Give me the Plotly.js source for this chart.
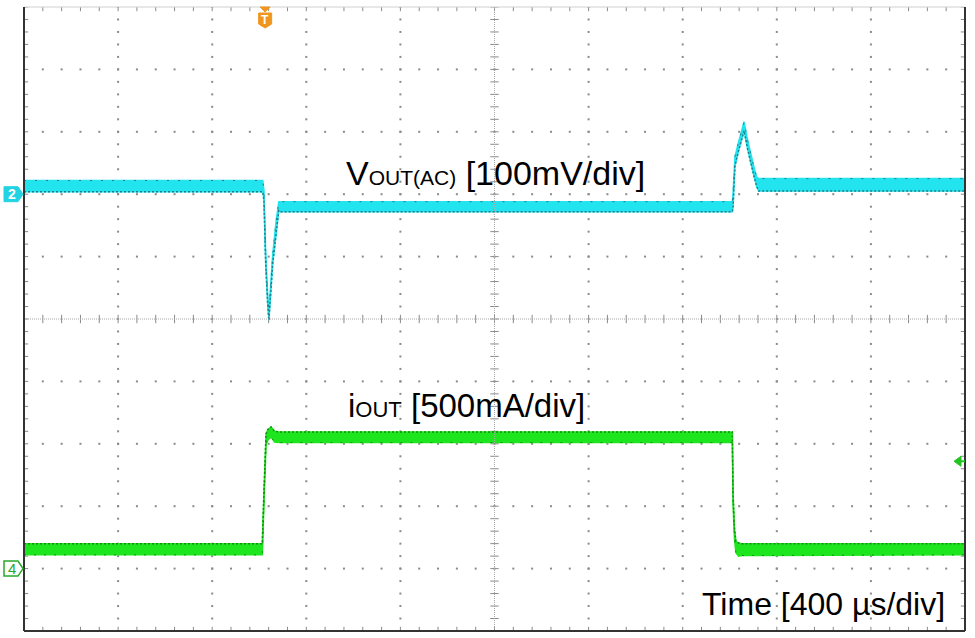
<!DOCTYPE html>
<html><head><meta charset="utf-8">
<script src="https://cdn.plot.ly/plotly-3.0.1.min.js"></script>
<style>html,body{margin:0;padding:0;background:#fff}</style>
</head><body><div id="chart" style="width:975px;height:638px"></div>
<script>
// Scope settings: 10 x 10 divisions
const timeRange = [-1025, 2975];   // µs, 400 µs/div, trigger at 0
const voutRange = [-700, 300];     // mV, 100 mV/div, ch2 ground at 0
const ioutRange = [-500, 4500];    // mA, 500 mA/div, ch4 ground at 0
const triggerLevel = 860;          // mA on ch4

// Channel 2: VOUT(AC) envelope (peak-detect min/max), mV
const voutTime = [-1025, -10, -5, 2.5, 11, 16, 32, 46, 58, 66, 1986, 1989, 1997, 2010, 2025, 2036, 2050, 2065, 2080, 2090, 2098, 2975];
const voutMax  = [22, 22, 6, -98, -163, -188, -98, -45, -12, -12, -12, 0, 60, 80, 100, 116, 88, 62, 40, 27, 25, 25];
const voutMin  = [4, 4, -10, -112, -177, -202, -112, -60, -26, -28, -28, -20, 45, 66, 86, 102, 74, 48, 26, 12, 5, 5];

// Channel 4: IOUT envelope, mA
const ioutTime = [-1025, -12, -5, 1, 4, 12, 25, 40, 60, 1986, 1989, 1995, 2001, 2012, 2025, 2975];
const ioutMax  = [200, 200, 610, 960, 1080, 1115, 1135, 1100, 1095, 1095, 600, 320, 220, 205, 200, 200];
const ioutMin  = [110, 110, 530, 880, 1000, 1030, 1055, 1015, 1010, 1010, 520, 240, 130, 100, 105, 110];

const labels = {
  vout: 'V<span style="font-size:21px">OUT(AC)</span> [100mV/div]',
  iout: 'i<span style="font-size:22px">OUT</span> [500mA/div]',
  time: 'Time [400 µs/div]'
};

const CYAN = '#22e4ee', CYAN_DARK = '#1f7f88';
const GREEN = '#1ee61e', GREEN_DARK = '#168c16';
const FONT = 'Liberation Sans, Arial, sans-serif';

// graticule helpers (divisions -> axis units)
const tDiv = (timeRange[1]-timeRange[0])/10, vDiv = (voutRange[1]-voutRange[0])/10;
const dx = d => timeRange[0] + d*tDiv, dy = d => voutRange[0] + d*vDiv;

const gx=[], gy=[];
for (let i=1;i<10;i++){ if(i===5) continue;
  for (let j=0;j<=50;j++){ gx.push(dx(i)); gy.push(dy(j/5)); gx.push(dx(j/5)); gy.push(dy(i)); } }
const cvx=[], cvy=[], chx=[], chy=[];
for (let j=0;j<=50;j++){
  cvx.push(dx(5)); cvy.push(dy(j/5));
  cvx.push(dx(0)); cvy.push(dy(j/5));
  cvx.push(dx(10)); cvy.push(dy(j/5));
  chx.push(dx(j/5)); chy.push(dy(5));
  chx.push(dx(j/5)); chy.push(dy(0));
  chx.push(dx(j/5)); chy.push(dy(10));
}

const traces = [
  {x:gx, y:gy, mode:'markers', marker:{symbol:'square', size:2, color:'#8a8a8a'}, hoverinfo:'skip'},
  {x:cvx, y:cvy, mode:'markers', marker:{symbol:'line-ew', size:6, line:{width:1, color:'#8a8a8a'}}, hoverinfo:'skip'},
  {x:chx, y:chy, mode:'markers', marker:{symbol:'line-ns', size:6, line:{width:1, color:'#8a8a8a'}}, hoverinfo:'skip'},
  // VOUT envelope
  {x:voutTime, y:voutMax, mode:'lines', line:{color:CYAN, width:1.5}, hoverinfo:'skip'},
  {x:voutTime, y:voutMin, mode:'lines', fill:'tonexty', fillcolor:CYAN, line:{color:CYAN, width:1.5}, hoverinfo:'skip'},
  {x:voutTime, y:voutMin, mode:'lines', line:{color:CYAN_DARK, width:1.5, dash:'2px,2px'}, hoverinfo:'skip'},
  {x:voutTime, y:voutMax, mode:'lines', line:{color:CYAN_DARK, width:1, dash:'2px,9px'}, hoverinfo:'skip'},
  // IOUT envelope
  {x:ioutTime, y:ioutMax, yaxis:'y2', mode:'lines', line:{color:GREEN, width:1.5}, hoverinfo:'skip'},
  {x:ioutTime, y:ioutMin, yaxis:'y2', mode:'lines', fill:'tonexty', fillcolor:GREEN, line:{color:GREEN, width:1.5}, hoverinfo:'skip'},
  {x:ioutTime, y:ioutMax, yaxis:'y2', mode:'lines', line:{color:GREEN_DARK, width:1.5, dash:'2px,2px'}, hoverinfo:'skip'},
  {x:ioutTime, y:ioutMin, yaxis:'y2', mode:'lines', line:{color:GREEN_DARK, width:1, dash:'2px,8px'}, hoverinfo:'skip'}
];

const hidden = {showgrid:false, zeroline:false, showticklabels:false, showline:false, ticks:''};

const shapes = [
  // centre cross of graticule
  {type:'line', xref:'x', yref:'y', x0:dx(5), x1:dx(5), y0:voutRange[0], y1:voutRange[1], line:{color:'#a8a8a8', width:1, dash:'1px,1px'}},
  {type:'line', xref:'x', yref:'y', x0:timeRange[0], x1:timeRange[1], y0:dy(5), y1:dy(5), line:{color:'#a8a8a8', width:1, dash:'1px,1px'}},
  // frame
  {type:'line', xref:'paper', yref:'paper', x0:0, x1:1, y0:1, y1:1, line:{color:'#d0d0d0', width:1}},
  {type:'line', xref:'paper', yref:'paper', x0:0, x1:0, y0:0, y1:1, line:{color:'#333', width:2}},
  {type:'line', xref:'paper', yref:'paper', x0:1, x1:1, y0:0, y1:1, line:{color:'#333', width:2}},
  {type:'line', xref:'paper', yref:'paper', x0:0, x1:1, y0:0, y1:0, line:{color:'#333', width:2}},
  // ch2 ground tag
  {type:'path', xref:'paper', yref:'y', xsizemode:'pixel', ysizemode:'pixel', xanchor:0, yanchor:0,
   path:'M -20 -7.5 L -6 -7.5 L -1 0 L -6 7.5 L -20 7.5 Z', fillcolor:'#22d4e2', line:{color:'#22d4e2', width:1}},
  // ch4 ground tag
  {type:'path', xref:'paper', yref:'y2', xsizemode:'pixel', ysizemode:'pixel', xanchor:0, yanchor:0,
   path:'M -20 -7.5 L -6 -7.5 L -1 0 L -6 7.5 L -20 7.5 Z', fillcolor:'#fff', line:{color:'#2aa82a', width:1.5}},
  // trigger position marker
  {type:'path', xref:'x', yref:'paper', xsizemode:'pixel', ysizemode:'pixel', xanchor:0, yanchor:1,
   path:'M -5 0 L 5 0 L 0 -5 Z', fillcolor:'#f0961e', line:{color:'#f0961e', width:1}},
  {type:'path', xref:'x', yref:'paper', xsizemode:'pixel', ysizemode:'pixel', xanchor:0, yanchor:1,
   path:'M -6.5 -6 L 6.5 -6 L 6.5 -17 L 0 -21 L -6.5 -17 Z', fillcolor:'#f0961e', line:{color:'#f0961e', width:1}},
  // trigger level marker
  {type:'path', xref:'paper', yref:'y2', xsizemode:'pixel', ysizemode:'pixel', xanchor:1, yanchor:triggerLevel,
   path:'M -11 0 L -4 5 L -4 -5 Z', fillcolor:'#22c422', line:{color:'#22c422', width:1}},
  {type:'line', xref:'paper', yref:'y2', xsizemode:'pixel', ysizemode:'pixel', xanchor:1, yanchor:triggerLevel,
   x0:-5, x1:0, y0:0, y1:0, line:{color:'#22c422', width:2}}
];

const annotations = [
  {xref:'paper', yref:'y', x:0, y:0, xanchor:'center', yanchor:'middle', xshift:-12, text:'<b>2</b>', showarrow:false, font:{family:FONT, size:14, color:'#fff'}},
  {xref:'paper', yref:'y2', x:0, y:0, xanchor:'center', yanchor:'middle', xshift:-12, text:'4', showarrow:false, font:{family:FONT, size:15, color:'#2aa82a'}},
  {xref:'x', yref:'paper', x:0, y:1, xanchor:'center', yanchor:'middle', yshift:-13, text:'<b>T</b>', showarrow:false, font:{family:FONT, size:12, color:'#fff'}},
  {xref:'paper', yref:'paper', x:0.3400, y:0.734, xanchor:'left', yanchor:'middle', text:labels.vout, showarrow:false, font:{family:FONT, size:34, color:'#000'}},
  {xref:'paper', yref:'paper', x:0.3420, y:0.3606, xanchor:'left', yanchor:'middle', text:labels.iout, showarrow:false, font:{family:FONT, size:33, color:'#000'}},
  {xref:'paper', yref:'paper', x:0.7180, y:0.0440, xanchor:'left', yanchor:'middle', text:labels.time, showarrow:false, font:{family:FONT, size:32, color:'#000'}}
];

const layout = {
  width:975, height:638,
  margin:{l:24, r:10, t:7, b:7, pad:0},
  paper_bgcolor:'#fff', plot_bgcolor:'#fff',
  showlegend:false,
  xaxis:Object.assign({range:timeRange}, hidden),
  yaxis:Object.assign({range:voutRange}, hidden),
  yaxis2:Object.assign({range:ioutRange, overlaying:'y'}, hidden),
  shapes:shapes, annotations:annotations
};

Plotly.newPlot('chart', traces, layout, {staticPlot:true, displayModeBar:false});
</script></body></html>
